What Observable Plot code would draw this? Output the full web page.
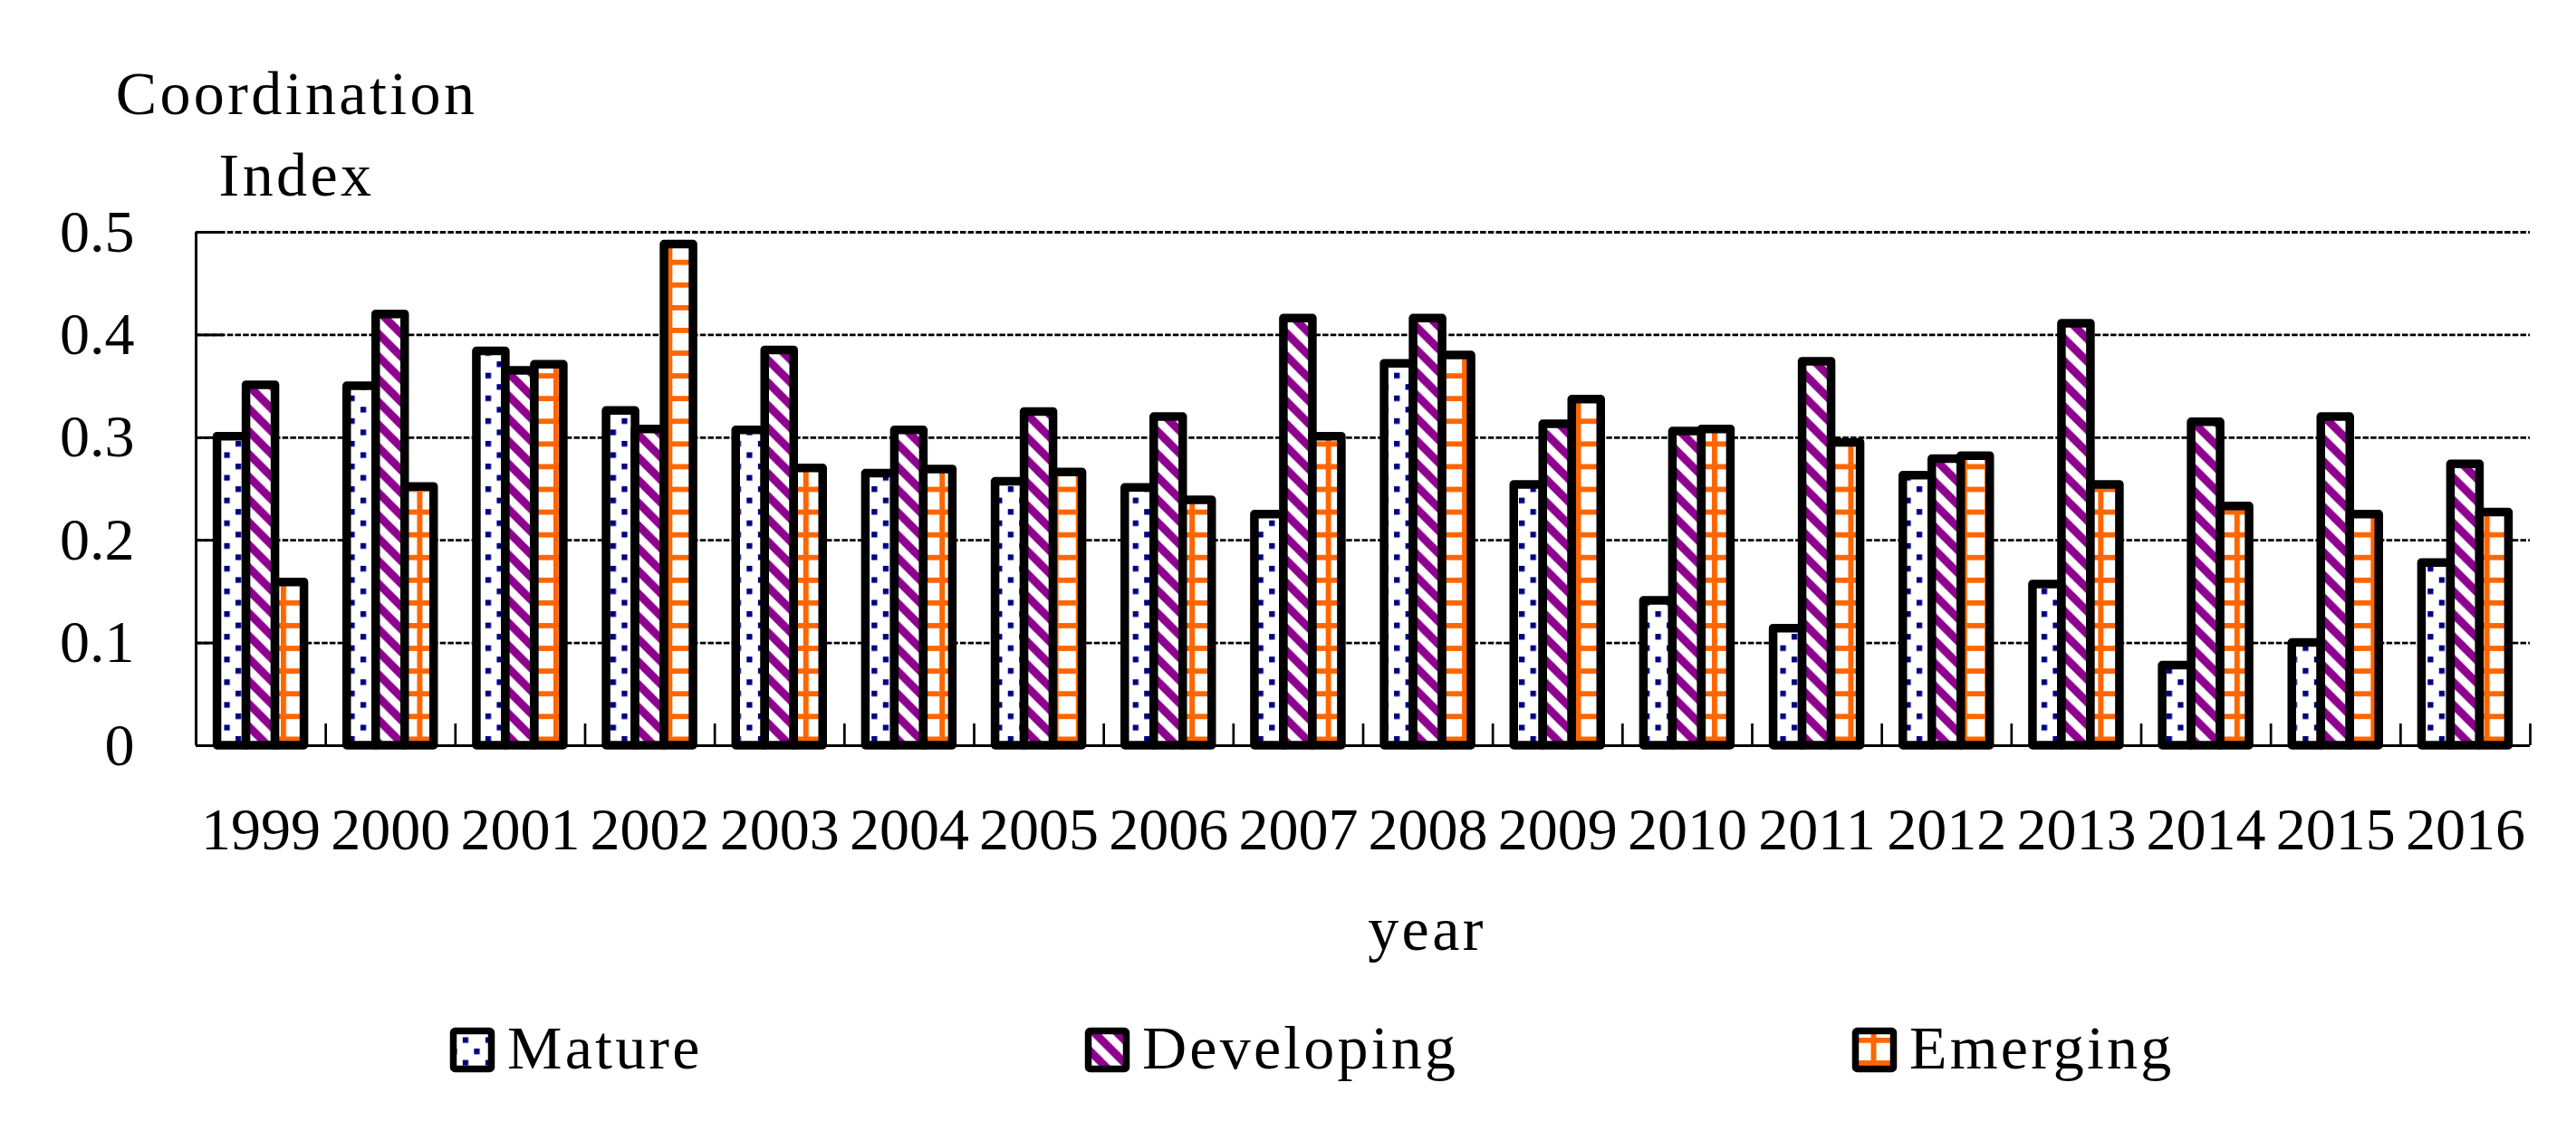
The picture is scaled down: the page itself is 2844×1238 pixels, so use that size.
<!DOCTYPE html>
<html>
<head>
<meta charset="utf-8">
<script src="https://cdn.jsdelivr.net/npm/d3@7"></script>
<script src="https://cdn.jsdelivr.net/npm/@observablehq/plot@0.6"></script>
<style>
  html, body { margin: 0; padding: 0; background: #fff; }
  #chart svg { display: block; }
  #legend text { letter-spacing: 3.2px; }
</style>
</head>
<body>
<svg width="0" height="0" style="position:absolute">
  <defs>
    <pattern id="pat-mature" patternUnits="userSpaceOnUse" x="9.2" y="10.4" width="25.08" height="25.08">
      <rect width="25.08" height="25.08" fill="#fff"/>
      <rect x="0" y="0" width="6.27" height="6.27" fill="#000080"/>
      <rect x="12.54" y="12.54" width="6.27" height="6.27" fill="#000080"/>
    </pattern>
    <pattern id="pat-developing" patternUnits="userSpaceOnUse" x="3" y="4" width="25.08" height="25.08">
      <rect width="25.08" height="25.08" fill="#fff"/>
      <polygon points="0,0 6.27,0 25.08,18.81 25.08,25.08 18.81,25.08 0,6.27" fill="#8E008E"/>
      <polygon points="18.81,0 25.08,0 25.08,6.27" fill="#8E008E"/>
      <polygon points="0,18.81 0,25.08 6.27,25.08" fill="#8E008E"/>
    </pattern>
    <pattern id="pat-emerging" patternUnits="userSpaceOnUse" x="9.0" y="10.9" width="25.08" height="25.08">
      <rect width="25.08" height="25.08" fill="#fff"/>
      <rect x="0" y="0" width="25.08" height="5.8" fill="#FF6600"/>
      <rect x="0" y="0" width="6.0" height="25.08" fill="#FF6600"/>
    </pattern>
  </defs>
</svg>
<div id="chart"></div>
<div id="legend"></div>
<script>
const years = [1999, 2000, 2001, 2002, 2003, 2004, 2005, 2006, 2007, 2008, 2009, 2010, 2011, 2012, 2013, 2014, 2015, 2016];
const series = ["Mature", "Developing", "Emerging"];
const mature     = [0.301, 0.350, 0.384, 0.326, 0.307, 0.265, 0.257, 0.251, 0.225, 0.372, 0.254, 0.141, 0.114, 0.263, 0.157, 0.078, 0.100, 0.178];
const developing = [0.351, 0.420, 0.365, 0.308, 0.385, 0.307, 0.325, 0.320, 0.416, 0.416, 0.313, 0.306, 0.374, 0.279, 0.411, 0.315, 0.320, 0.274];
const emerging   = [0.159, 0.252, 0.371, 0.488, 0.270, 0.269, 0.266, 0.239, 0.301, 0.380, 0.337, 0.308, 0.295, 0.282, 0.254, 0.233, 0.225, 0.227];
const yTicks = [0, 0.1, 0.2, 0.3, 0.4, 0.5];
const yTitle = "Coordination\nIndex";
const xTitle = "year";
const patterns = ["url(#pat-mature)", "url(#pat-developing)", "url(#pat-emerging)"];

const values = [mature, developing, emerging];
const data = years.flatMap((year, i) => series.map((s, j) => ({year, i, series: s, value: values[j][i]})));

const W = 2844, H = 1110;
const mL = 216, mR = 51, mT = 256, mB = 287;
const frameW = W - mL - mR, frameH = H - mT - mB;

const inner = d3.scaleBand().domain(series).range([0, 1]).paddingInner(0).paddingOuter(0.737);

const font = "'Liberation Serif', 'Times New Roman', serif";

const chart = Plot.plot({
  width: W,
  height: H,
  marginLeft: mL,
  marginRight: mR,
  marginTop: mT,
  marginBottom: mB,
  style: {fontFamily: font, fontSize: "66px", color: "#000", background: "#fff"},
  x: {type: "linear", domain: [0, years.length]},
  y: {domain: [0, 0.5]},
  color: {type: "ordinal", domain: series, range: patterns},
  marks: [
    Plot.ruleY(yTicks.filter(d => d > 0), {stroke: "#000", strokeWidth: 2.8, strokeDasharray: "6.5,2.2"}),
    Plot.ruleY(yTicks, {stroke: "#000", strokeWidth: 2.9, insetRight: frameW - 31}),
    Plot.ruleX(d3.range(1, years.length + 1), {stroke: "#000", strokeWidth: 2.7, insetTop: frameH - 24}),
    Plot.ruleY([0], {stroke: "#000", strokeWidth: 3}),
    Plot.ruleX([0], {stroke: "#000", strokeWidth: 3}),
    Plot.rect(data, {
      x1: d => d.i + inner(d.series),
      x2: d => d.i + inner(d.series) + inner.bandwidth(),
      y1: () => 0,
      y2: "value",
      fill: "series",
      stroke: "#000",
      strokeWidth: 9.5,
      strokeLinejoin: "round"
    }),
    Plot.axisX(years.map((y, i) => i + 0.5), {tickSize: 0, tickPadding: 67.5, tickFormat: d => String(years[Math.floor(d)]), label: null, fontSize: 66}),
    Plot.axisY(yTicks, {tickSize: 0, tickPadding: 68, tickFormat: d => String(d), label: null, fontSize: 66}),
    Plot.text([yTitle], {text: d => d, frameAnchor: "top-left", dx: 111, dy: -194.8, lineAnchor: "top", lineHeight: 1.3235, fontSize: 68, textAnchor: "middle"}),
    Plot.text([xTitle], {text: d => d, frameAnchor: "bottom", dx: 70.5, dy: 177, lineAnchor: "top", fontSize: 68, textAnchor: "middle"})
  ]
});
// widen the title letters slightly (the reference face is wider than Liberation Serif)
d3.select(chart).selectAll("text").filter(function() {
  const t = this.textContent;
  return t.startsWith("Coordination") || t === "Index" || t === xTitle;
}).style("letter-spacing", "3.4px");
d3.select(chart).selectAll("tspan").filter(function() {
  const t = this.textContent;
  return t === "Coordination" || t === "Index";
}).style("letter-spacing", "3.4px");
document.getElementById("chart").appendChild(chart);

// Legend (below the SVG)
const legendX = [497, 1198, 2045];
const ns = "http://www.w3.org/2000/svg";
const lg = document.createElementNS(ns, "svg");
lg.setAttribute("width", W);
lg.setAttribute("height", 128);
lg.style.display = "block";
series.forEach((s, j) => {
  const r = document.createElementNS(ns, "rect");
  r.setAttribute("x", legendX[j] + 3.5);
  r.setAttribute("y", 25 + 3.5);
  r.setAttribute("width", 42);
  r.setAttribute("height", 42);
  r.setAttribute("rx", 2);
  r.setAttribute("fill", patterns[j]);
  r.setAttribute("stroke", "#000");
  r.setAttribute("stroke-width", 7.5);
  r.setAttribute("stroke-linejoin", "round");
  lg.appendChild(r);
  const t = document.createElementNS(ns, "text");
  t.setAttribute("x", legendX[j] + 63);
  t.setAttribute("y", 70);
  t.setAttribute("font-family", font);
  t.setAttribute("font-size", 68);
  t.textContent = s;
  lg.appendChild(t);
});
document.getElementById("legend").appendChild(lg);
</script>
</body>
</html>
